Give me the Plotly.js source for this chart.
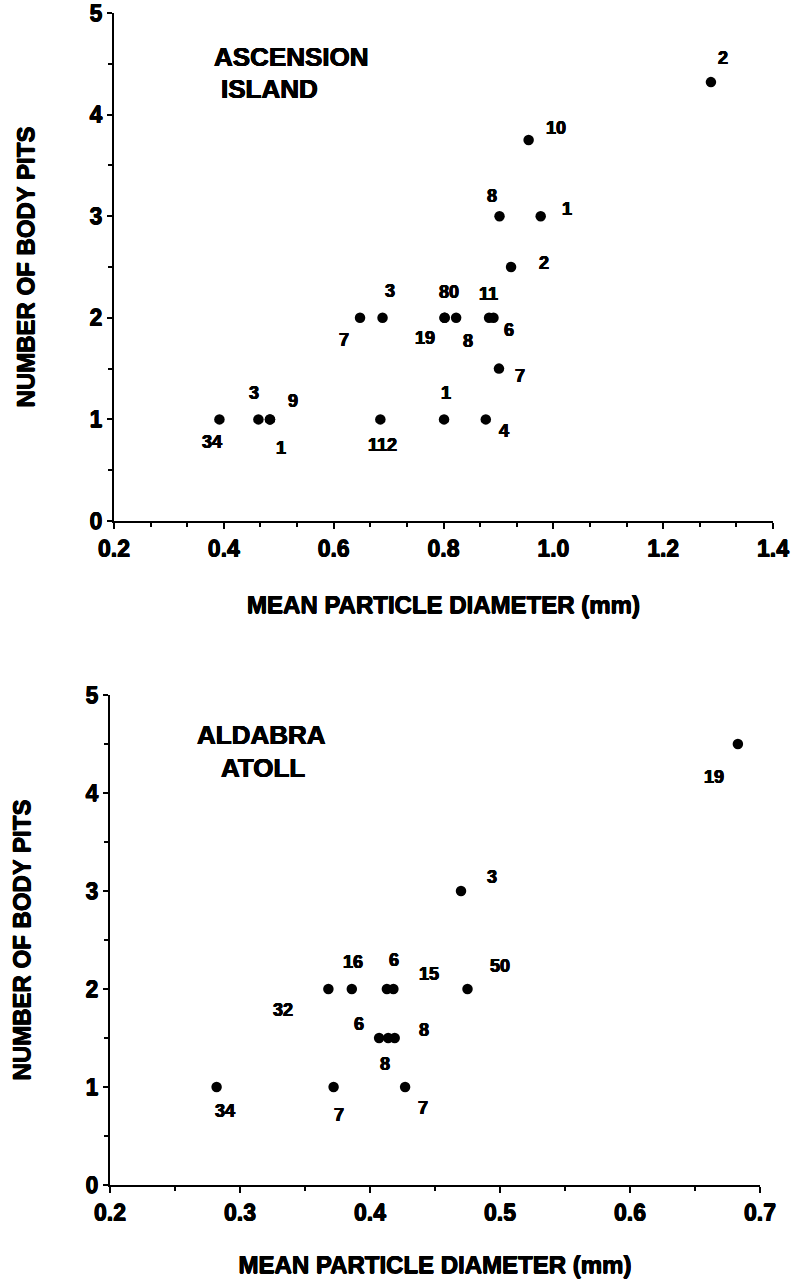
<!DOCTYPE html>
<html><head><meta charset="utf-8">
<script src="https://cdn.plot.ly/plotly-3.0.1.min.js"></script>
<style>html,body{margin:0;padding:0;background:#fff}#chart{width:797px;height:1281px}</style>
</head><body><div id="chart"></div>
<script>
// ---- Ascension Island ----
const ascDiameter = [0.392, 0.463, 0.484, 0.484, 0.685, 0.801, 0.877, 0.901, 0.648, 0.689, 0.802, 0.802, 0.823, 0.883, 0.891, 0.923, 0.902, 0.977, 0.955, 1.287];
const ascPits     = [1, 1, 1, 1, 1, 1, 1, 1.5, 2, 2, 2, 2, 2, 2, 2, 2.5, 3, 3, 3.75, 4.32];
const ascN        = ['34', '3', '9', '1', '112', '1', '4', '7', '7', '3', '80', '19', '8', '11', '6', '2', '8', '1', '10', '2'];

// ---- Aldabra Atoll ----
const aldDiameter = [0.282, 0.372, 0.427, 0.407, 0.414, 0.419, 0.368, 0.386, 0.413, 0.418, 0.475, 0.470, 0.683];
const aldPits     = [1, 1, 1, 1.5, 1.5, 1.5, 2, 2, 2, 2, 2, 3, 4.5];
const aldN        = ['34', '7', '7', '6', '8', '8', '32', '16', '6', '15', '50', '3', '19'];

// ---- tick labels ----
const xTickValsTop = [0.2, 0.4, 0.6, 0.8, 1.0, 1.2, 1.4];
const xTickTextTop = ['0.2', '0.4', '0.6', '0.8', '1.0', '1.2', '1.4'];
const xTickValsBot = [0.2, 0.3, 0.4, 0.5, 0.6, 0.7];
const xTickTextBot = ['0.2', '0.3', '0.4', '0.5', '0.6', '0.7'];
const yTickVals = [0, 1, 2, 3, 4, 5];
const yTickText = ['0', '1', '2', '3', '4', '5'];

const siteTop = ['ASCENSION', 'ISLAND'];
const siteBot = ['ALDABRA', 'ATOLL'];
const xTitle = 'MEAN PARTICLE DIAMETER (mm)';
const yTitle = 'NUMBER OF BODY PITS';

// ---- label placement (pixel offsets: [right, down]) ----
const ascShift = [[-7,23],[-4,-26],[23,-18],[11,29],[2,26],[2,-26],[18,12],[21,7],[-16,22],[7,-27],[4,-26],[-20,20],[12,23],[-1,-24],[16,12],[33,-4],[-8,-20],[26,-7],[27,-12],[12,-24]];
const aldShift = [[8,24],[5,28],[18,21],[-20,-14],[-3,26],[29,-8],[-45,21],[1,-27],[7,-29],[36,-15],[32,-23],[31,-14],[-24,33]];

const FONT = 'Liberation Sans, Arial, Helvetica, sans-serif';
const HEAVY = '0.45px 0 0 #000, -0.45px 0 0 #000, 0 0.45px 0 #000, 0 -0.45px 0 #000';
const W = 797, H = 1281;

function f(size) { return {family: FONT, size: size, color: '#000', weight: 'bold', shadow: HEAVY}; }

function labels(xs, ys, ns, shifts, xref, yref) {
  return ns.map((n, i) => ({
    x: xs[i], y: ys[i], xref: xref, yref: yref, text: n, showarrow: false,
    xshift: shifts[i][0], yshift: -shifts[i][1], xanchor: 'center', yanchor: 'middle',
    font: f(18)
  }));
}

const marker = {size: 10.5, color: '#000'};
const traces = [
  {x: ascDiameter, y: ascPits, type: 'scatter', mode: 'markers', marker: marker, xaxis: 'x', yaxis: 'y', cliponaxis: false, hoverinfo: 'x+y'},
  {x: aldDiameter, y: aldPits, type: 'scatter', mode: 'markers', marker: marker, xaxis: 'x2', yaxis: 'y2', cliponaxis: false, hoverinfo: 'x+y'}
];

const tickFont = f(23);
const titleFont = f(24);
function axis(extra) {
  return Object.assign({
    showline: true, linecolor: '#000', linewidth: 2, mirror: false,
    ticks: 'outside', ticklen: 6, tickwidth: 2, tickcolor: '#000',
    showgrid: false, zeroline: false, tickfont: tickFont, fixedrange: true,
    tickmode: 'array'
  }, extra);
}

const layout = {
  width: W, height: H, margin: {l: 0, r: 0, t: 0, b: 0},
  paper_bgcolor: '#fff', plot_bgcolor: '#fff', showlegend: false,
  xaxis: axis({domain: [114/W, 773/W], range: [0.2, 1.4], tickvals: xTickValsTop, ticktext: xTickTextTop,
    minor: {dtick: 0.2/3, tick0: 0.2, ticks: 'outside', ticklen: 4, tickwidth: 2, tickcolor: '#000'},
    anchor: 'y', title: {text: xTitle, font: titleFont, standoff: 36}}),
  yaxis: axis({domain: [1 - 521/H, 1 - 13/H], range: [0, 5], tickvals: yTickVals, ticktext: yTickText, ticklen: 5,
    minor: {dtick: 0.5, tick0: 0, ticks: 'outside', ticklen: 4, tickwidth: 2, tickcolor: '#000'},
    anchor: 'x', title: {text: yTitle, font: titleFont, standoff: 48}}),
  xaxis2: axis({domain: [110/W, 760/W], range: [0.2, 0.7], tickvals: xTickValsBot, ticktext: xTickTextBot,
    minor: {dtick: 0.05, tick0: 0.2, ticks: 'outside', ticklen: 4, tickwidth: 2, tickcolor: '#000'},
    anchor: 'y2', title: {text: xTitle, font: titleFont, standoff: 32}}),
  yaxis2: axis({domain: [1 - 1185/H, 1 - 695/H], range: [0, 5], tickvals: yTickVals, ticktext: yTickText, ticklen: 5,
    minor: {dtick: 0.5, tick0: 0, ticks: 'outside', ticklen: 4, tickwidth: 2, tickcolor: '#000'},
    anchor: 'x2', title: {text: yTitle, font: titleFont, standoff: 48}}),
  annotations: [].concat(
    labels(ascDiameter, ascPits, ascN, ascShift, 'x', 'y'),
    labels(aldDiameter, aldPits, aldN, aldShift, 'x2', 'y2'),
    [
      {xref: 'paper', yref: 'paper', x: 212/W, y: 1 - 57/H, text: siteTop[0], showarrow: false, xanchor: 'left', yanchor: 'middle', font: f(26)},
      {xref: 'paper', yref: 'paper', x: 219/W, y: 1 - 89/H, text: siteTop[1], showarrow: false, xanchor: 'left', yanchor: 'middle', font: f(26)},
      {xref: 'paper', yref: 'paper', x: 261/W, y: 1 - 735/H, text: siteBot[0], showarrow: false, xanchor: 'center', yanchor: 'middle', font: f(26)},
      {xref: 'paper', yref: 'paper', x: 263/W, y: 1 - 768/H, text: siteBot[1], showarrow: false, xanchor: 'center', yanchor: 'middle', font: f(26)}
    ]
  )
};

Plotly.newPlot('chart', traces, layout, {displayModeBar: false, staticPlot: true});
</script>
</body></html>
